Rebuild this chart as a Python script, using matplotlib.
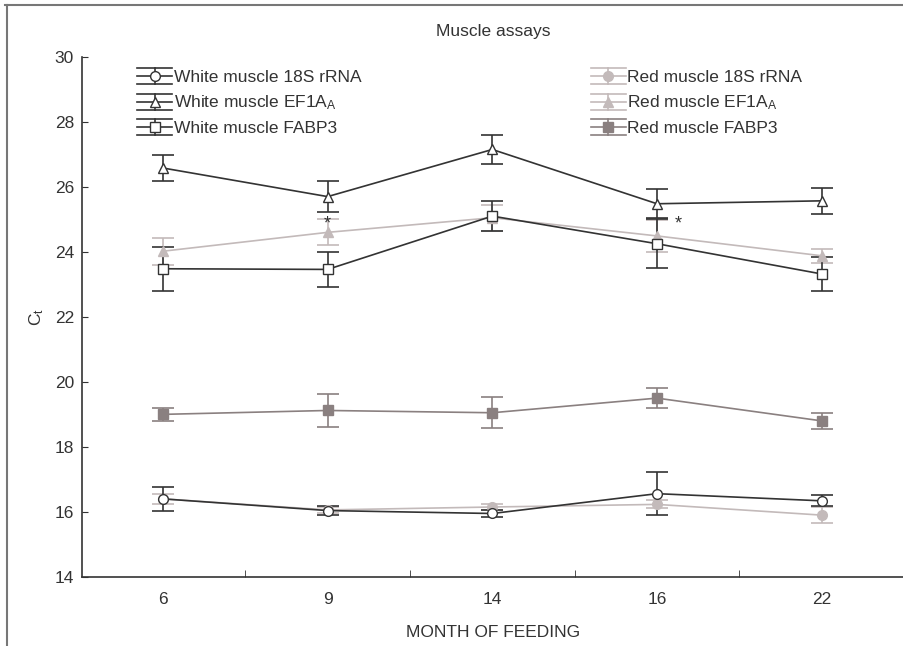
import matplotlib.pyplot as plt
from matplotlib.lines import Line2D
from matplotlib.legend_handler import HandlerBase
import numpy as np

plt.rcParams['font.family'] = ['Liberation Sans', 'DejaVu Sans']
plt.rcParams['mathtext.fontset'] = 'custom'
plt.rcParams['mathtext.rm'] = 'Liberation Sans'
plt.rcParams['mathtext.it'] = 'Liberation Sans'

months = ['6', '9', '14', '16', '22']

# white muscle
w18s = [16.40, 16.04, 15.95, 16.56, 16.34]
w18s_err = [0.36, 0.15, 0.10, 0.67, 0.17]
wef1a = [26.58, 25.70, 27.15, 25.48, 25.57]
wef1a_err = [0.40, 0.48, 0.45, 0.45, 0.40]
wfabp3 = [23.48, 23.46, 25.10, 24.25, 23.32]
wfabp3_err = [0.68, 0.55, 0.45, 0.75, 0.53]

# red muscle
r18s = [16.40, 16.06, 16.15, 16.23, 15.90]
r18s_err = [0.15, 0.10, 0.08, 0.12, 0.25]
ref1a = [24.02, 24.60, 25.05, 24.49, 23.88]
ref1a_err = [0.42, 0.40, 0.40, 0.50, 0.22]
rfabp3 = [19.00, 19.12, 19.05, 19.50, 18.80]
rfabp3_err = [0.20, 0.52, 0.48, 0.30, 0.25]

dark = '#333333'
light = '#c3baba'
mid = '#8a8080'


class CapHandler(HandlerBase):
    # line + marker with long horizontal caps above and below
    def create_artists(self, legend, orig_handle, xdescent, ydescent,
                       width, height, fontsize, trans):
        line = orig_handle.lines[0]
        c = line.get_color()
        yc = height / 2 - ydescent
        dy = height * 0.66
        x0, x1 = -xdescent, width - xdescent
        arts = [
            Line2D([x0, x1], [yc, yc], color=c, lw=1.2),
            Line2D([(x0 + x1) / 2] * 2, [yc - dy, yc + dy], color=c, lw=1.2),
            Line2D([x0, x1], [yc + dy, yc + dy], color=c, lw=1.2),
            Line2D([x0, x1], [yc - dy, yc - dy], color=c, lw=1.2),
            Line2D([(x0 + x1) / 2], [yc], marker=line.get_marker(), markersize=7,
                   mfc=line.get_markerfacecolor(), mec=line.get_markeredgecolor(),
                   linestyle='none'),
        ]
        for a in arts:
            a.set_transform(trans)
        return arts


fig = plt.figure(figsize=(9.04, 6.46), dpi=100)
ax = fig.add_axes([0.091, 0.107, 0.909, 0.805])
x = np.arange(len(months))

kw = dict(capsize=8, elinewidth=1.2, capthick=1.2, linewidth=1.2, markersize=7)

r1 = ax.errorbar(x, r18s, yerr=r18s_err, color=light, marker='o', mfc=light, mec=light, label='Red muscle 18S rRNA', **kw)
r2 = ax.errorbar(x, ref1a, yerr=ref1a_err, color=light, marker='^', mfc=light, mec=light, label=r'Red muscle EF1A$_\mathrm{A}$', **kw)
r3 = ax.errorbar(x, rfabp3, yerr=rfabp3_err, color=mid, marker='s', mfc=mid, mec=mid, label='Red muscle FABP3', **kw)
w1 = ax.errorbar(x, w18s, yerr=w18s_err, color=dark, marker='o', mfc='white', mec=dark, label='White muscle 18S rRNA', **kw)
w2 = ax.errorbar(x, wef1a, yerr=wef1a_err, color=dark, marker='^', mfc='white', mec=dark, label=r'White muscle EF1A$_\mathrm{A}$', **kw)
w3 = ax.errorbar(x, wfabp3, yerr=wfabp3_err, color=dark, marker='s', mfc='white', mec=dark, label='White muscle FABP3', **kw)

# significance marks
ax.text(1, 24.85, '*', ha='center', va='center', fontsize=13, color=dark)
ax.text(3.13, 24.85, '*', ha='center', va='center', fontsize=13, color=dark)

ax.set_xlim(-0.49, 4.5)
ax.set_ylim(14, 30)
ax.set_xticks(x)
ax.set_xticklabels(months)
ax.set_xticks([0.5, 1.5, 2.5, 3.5], minor=True)
ax.set_yticks(np.arange(14, 31, 2))
ax.tick_params(axis='x', which='major', length=0, labelsize=12.5, pad=11, colors='#333333')
ax.tick_params(axis='x', which='minor', direction='in', length=5, color='#333333')
ax.tick_params(axis='y', direction='in', length=4, labelsize=12.5, pad=6, colors='#333333')
ax.spines['top'].set_visible(False)
ax.spines['right'].set_visible(False)
for s in ['left', 'bottom']:
    ax.spines[s].set_color('#333333')
    ax.spines[s].set_linewidth(1.2)

ax.set_xlabel('MONTH OF FEEDING', fontsize=12.5, color='#333333', labelpad=13)
ax.set_ylabel(r'C$_\mathrm{t}$', fontsize=12.5, color='#333333', labelpad=6)
ax.set_title('Muscle assays', fontsize=12.5, color='#333333', pad=15)

hmap = {w1: CapHandler(), w2: CapHandler(), w3: CapHandler(),
        r1: CapHandler(), r2: CapHandler(), r3: CapHandler()}
leg1 = ax.legend(handles=[w1, w2, w3], loc='upper left', bbox_to_anchor=(0.048, 1.005),
                 frameon=False, fontsize=12.5, handlelength=2.0, handletextpad=0.1,
                 labelspacing=0.5, labelcolor='#333333', handler_map=hmap)
ax.add_artist(leg1)
ax.legend(handles=[r1, r2, r3], loc='upper left', bbox_to_anchor=(0.6, 1.005),
          frameon=False, fontsize=12.5, handlelength=2.0, handletextpad=0.1,
          labelspacing=0.5, labelcolor='#333333', handler_map=hmap)

# figure frame
fig.add_artist(Line2D([0.008, 0.008], [0.0, 0.993], color='#777777', linewidth=1.5))
fig.add_artist(Line2D([0.006, 1.0], [0.992, 0.992], color='#777777', linewidth=1.5))

fig.savefig('out.png', dpi=100)
